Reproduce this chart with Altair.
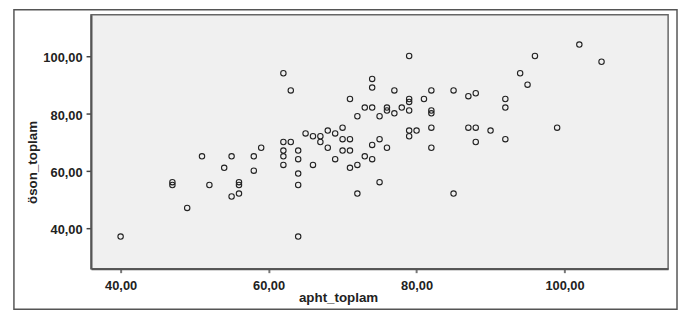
import altair as alt
import pandas as pd

apht_toplam = [40, 47, 47, 49, 51, 52, 54, 55, 55, 56, 56, 56, 58, 58, 59,
               62, 62, 62, 62, 62, 63, 63, 64, 64, 64, 64, 64, 65, 66, 66, 67,
               67, 68, 68, 69, 69, 70, 70, 71, 70, 71, 71, 71, 72, 72, 72,
               73, 74, 73, 74, 74, 74, 74, 75, 75, 75, 76, 76, 76, 77, 77, 78,
               79, 79, 79, 79, 79, 80, 79, 81, 82, 82, 82, 82, 82, 85, 85,
               87, 88, 87, 88, 88, 90, 92, 92, 92, 94, 95, 96, 99, 102, 105]
oson_toplam = [37, 56, 55, 47, 65, 55, 61, 65, 51, 56, 55, 52, 65, 60, 68,
               94, 70, 67, 65, 62, 88, 70, 67, 64, 59, 55, 37, 73, 62, 72, 72,
               70, 74, 68, 73, 64, 75, 71, 71, 67, 67, 85, 61, 79, 62, 52,
               82, 82, 65, 92, 89, 69, 64, 79, 71, 56, 82, 81, 68, 88, 80, 82,
               100, 85, 84, 81, 74, 74, 72, 85, 88, 81, 80, 75, 68, 88, 52,
               86, 87, 75, 75, 70, 74, 85, 82, 71, 94, 90, 100, 75, 104, 98]

x_ticks = [40, 60, 80, 100]
y_ticks = [40, 60, 80, 100]

df = pd.DataFrame({"apht_toplam": apht_toplam, "oson_toplam": oson_toplam})

FONT = "Liberation Sans, Arial, sans-serif"
lab = "replace(format(datum.value, '.2f'), '.', ',')"

points = alt.Chart(df).mark_point(
    shape="circle", size=30, filled=False, stroke="#222222",
    strokeWidth=1.1, opacity=1
).encode(
    x=alt.X("apht_toplam:Q",
            scale=alt.Scale(domain=[36, 114], nice=False, zero=False),
            axis=alt.Axis(values=x_ticks, labelExpr=lab, grid=False,
                          title="apht_toplam", titleX=250, titleY=29,
                          titleBaseline="middle", titleAlign="center",
                          tickSize=4, tickColor="#777777", tickWidth=2,
                          labelPadding=7, domainColor="#555555", domainWidth=2)),
    y=alt.Y("oson_toplam:Q",
            scale=alt.Scale(domain=[25.8, 114.4], nice=False, zero=False),
            axis=alt.Axis(values=y_ticks, labelExpr=lab, grid=False,
                          title="öson_toplam", titleX=-59, titleY=149,
                          titleAngle=-90, titleBaseline="middle",
                          titleAlign="center",
                          tickSize=5, tickColor="#444444", tickWidth=1.5,
                          labelPadding=4, labelOffset=2,
                          domainColor="#555555", domainWidth=2)),
)

frame = alt.Chart(alt.Data(values=[{"a": 1}])).mark_rect(
    fillOpacity=0, stroke="#555555", strokeWidth=1.5
).encode(
    x=alt.value(-78), x2=alt.value(593), y=alt.value(-5), y2=alt.value(298)
)

chart = alt.layer(frame, points).properties(
    width=584, height=257,
    autosize=alt.AutoSizeParams(type="none"),
    padding={"left": 84, "top": 5, "right": 10, "bottom": 43},
    background="white",
).configure_view(
    fill="#f0f0f0", stroke="#666666", strokeWidth=1.5
).configure_axis(
    labelFont=FONT, titleFont=FONT, labelFontSize=13, titleFontSize=13.5,
    labelFontWeight="bold", titleFontWeight="bold",
    labelColor="#222222", titleColor="#222222"
)

chart.save("out.html", embed_options={"renderer": "svg", "actions": False})
